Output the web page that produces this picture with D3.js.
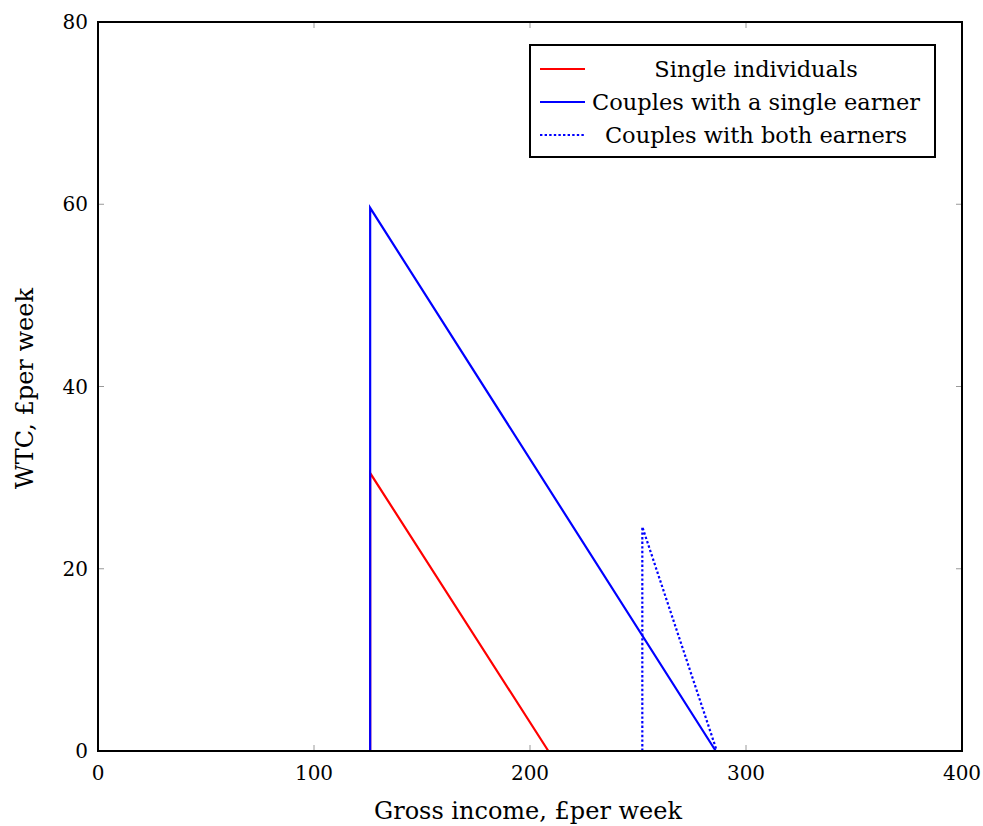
<!DOCTYPE html>
<html>
<head>
<meta charset="utf-8">
<script src="https://cdn.jsdelivr.net/npm/d3@7"></script>
<style>
	body { margin: 0; background: #fff; }
	svg text { font-family: "DejaVu Serif", "Liberation Serif", serif; fill: #000; }
</style>
</head>
<body>
<div id="chart"></div>
<script>
// gross income (x) and WTC (y), £ per week
const singleX = [126, 126, 208.5];
const singleY = [0, 30.5, 0];
const coupleOneX = [126, 126, 286];
const coupleOneY = [0, 59.6, 0];
const coupleBothX = [252, 252, 286.5];
const coupleBothY = [0, 24.6, 0];

const seriesNames = ['Single individuals', 'Couples with a single earner', 'Couples with both earners'];
const xTicks = [0, 100, 200, 300, 400];
const yTicks = [0, 20, 40, 60, 80];

const width = 983, height = 826;
const m = {left: 98, right: 21, top: 22, bottom: 75};
const w = width - m.left - m.right;
const h = height - m.top - m.bottom;

const svg = d3.select('#chart').append('svg')
	.attr('width', width)
	.attr('height', height);

const plot = svg.append('g')
	.attr('transform', 'translate(' + m.left + ',' + m.top + ')');

const x = d3.scaleLinear().domain([0, 400]).range([0, w]);
const y = d3.scaleLinear().domain([0, 80]).range([h, 0]);

//inner ticks on all four sides
const tickLen = 6;
const tickG = plot.append('g').attr('class', 'ticks')
	.attr('stroke', '#808080').attr('stroke-width', 0.8);
xTicks.slice(1, -1).forEach(function(t){
	tickG.append('line').attr('x1', x(t)).attr('x2', x(t)).attr('y1', h).attr('y2', h - tickLen);
	tickG.append('line').attr('x1', x(t)).attr('x2', x(t)).attr('y1', 0).attr('y2', tickLen);
});
yTicks.slice(1, -1).forEach(function(t){
	tickG.append('line').attr('y1', y(t)).attr('y2', y(t)).attr('x1', 0).attr('x2', tickLen);
	tickG.append('line').attr('y1', y(t)).attr('y2', y(t)).attr('x1', w).attr('x2', w - tickLen);
});

//tick labels
plot.append('g').selectAll('text')
	.data(xTicks).enter().append('text')
	.attr('x', d => x(d))
	.attr('y', h + 29)
	.attr('text-anchor', 'middle')
	.style('font-size', '20px')
	.text(d => d);

plot.append('g').selectAll('text')
	.data(yTicks).enter().append('text')
	.attr('x', -10)
	.attr('y', d => y(d) + 7)
	.attr('text-anchor', 'end')
	.style('font-size', '20px')
	.text(d => d);

//lines
const line = d3.line().x(d => x(d[0])).y(d => y(d[1]));
const series = [
	{name: seriesNames[0], xs: singleX, ys: singleY, color: '#ff0000', dash: null},
	{name: seriesNames[1], xs: coupleOneX, ys: coupleOneY, color: '#0000ff', dash: null},
	{name: seriesNames[2], xs: coupleBothX, ys: coupleBothY, color: '#0000ff', dash: '2.4,2.2'}
];
series.forEach(function(s){
	plot.append('path')
		.datum(s.xs.map((v, i) => [v, s.ys[i]]))
		.attr('fill', 'none')
		.attr('stroke', s.color)
		.attr('stroke-width', 2.2)
		.attr('stroke-dasharray', s.dash)
		.attr('d', line);
});

//frame
plot.append('rect')
	.attr('x', 0).attr('y', 0)
	.attr('width', w).attr('height', h)
	.attr('fill', 'none')
	.attr('stroke', '#000')
	.attr('stroke-width', 2);

//legend
const lg = svg.append('g').attr('transform', 'translate(530,45)');
lg.append('rect')
	.attr('width', 405).attr('height', 112)
	.attr('fill', '#fff').attr('stroke', '#000').attr('stroke-width', 2);
series.forEach(function(s, i){
	const ly = 24 + i * 33;
	lg.append('line')
		.attr('x1', 10).attr('x2', 55)
		.attr('y1', ly).attr('y2', ly)
		.attr('stroke', s.color)
		.attr('stroke-width', 2.2)
		.attr('stroke-dasharray', s.dash);
	lg.append('text')
		.attr('x', 226).attr('y', ly + 8)
		.attr('text-anchor', 'middle')
		.style('font-size', '22.5px')
		.text(s.name);
});

//axis labels
svg.append('text')
	.attr('x', m.left + w / 2 - 2)
	.attr('y', 819)
	.attr('text-anchor', 'middle')
	.style('font-size', '24px')
	.text('Gross income, £per week');

svg.append('text')
	.attr('transform', 'translate(33,' + (m.top + h / 2 + 2) + ') rotate(-90)')
	.attr('text-anchor', 'middle')
	.style('font-size', '24px')
	.text('WTC, £per week');
</script>
</body>
</html>
